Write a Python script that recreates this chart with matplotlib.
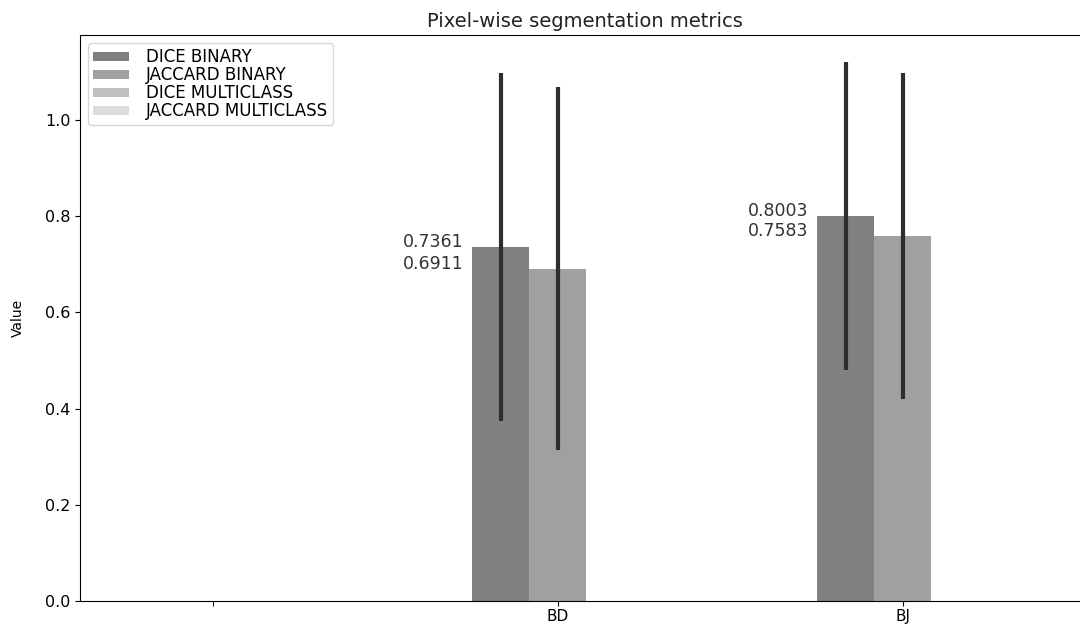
import matplotlib
matplotlib.use("Agg")
import matplotlib.pyplot as plt
import numpy as np

categories = ["", "BD", "BJ"]
series_names = ["DICE BINARY", "JACCARD BINARY", "DICE MULTICLASS", "JACCARD MULTICLASS"]
dice_binary = [0.0, 0.7361, 0.8003]
jaccard_binary = [0.0, 0.6911, 0.7583]
dice_multiclass = [0.0, 0.0, 0.0]
jaccard_multiclass = [0.0, 0.0, 0.0]
dice_binary_err = [0.0, 0.362, 0.320]
jaccard_binary_err = [0.0, 0.378, 0.339]
colors = ["#808080", "#a0a0a0", "#bfbfbf", "#dcdcdc"]

fig = plt.figure(figsize=(10.8, 6.24), dpi=100)
ax = fig.add_axes([80/1080, 23/624, 1009/1080, 566/624])

x = np.arange(len(categories))
w = 0.165
values = [dice_binary, jaccard_binary, dice_multiclass, jaccard_multiclass]
errs = [dice_binary_err, jaccard_binary_err, None, None]
offsets = [-w, 0, w, 2*w]
for vals, off, c, name in zip(values, offsets, colors, series_names):
    ax.bar(x + off, vals, width=w, color=c, label=name)
for vals, err, off in zip(values[:2], errs[:2], offsets[:2]):
    ax.errorbar(x[1:] + off, vals[1:], yerr=err[1:], fmt="none", ecolor="#2e2e2e",
                elinewidth=3, capsize=0)

for i in range(1, len(categories)):
    xl = x[i] - 1.5*w - 0.025
    ax.text(xl, dice_binary[i], f"{dice_binary[i]:.4f}", ha="right", va="baseline",
            fontsize=12.5, color="#333333")
    ax.text(xl, jaccard_binary[i], f"{jaccard_binary[i]:.4f}", ha="right", va="baseline",
            fontsize=12.5, color="#333333")

ax.set_xticks(x)
ax.set_xticklabels(categories, fontsize=11)
ax.tick_params(axis="x", pad=2)
ax.tick_params(axis="y", labelsize=11.5)
ax.set_xlim(-0.385, 2.54)
ax.set_ylim(0, 1.177)
ax.set_ylabel("Value", fontsize=10, labelpad=14)
ax.set_title("Pixel-wise segmentation metrics", fontsize=14, color="#222222")
ax.legend(loc="upper left", fontsize=12, handlelength=2.15, handleheight=0.5,
          handletextpad=1.0, labelspacing=0.0, borderpad=0.3,
          bbox_to_anchor=(0.0, 1.0))

fig.savefig("out.png", dpi=100)
